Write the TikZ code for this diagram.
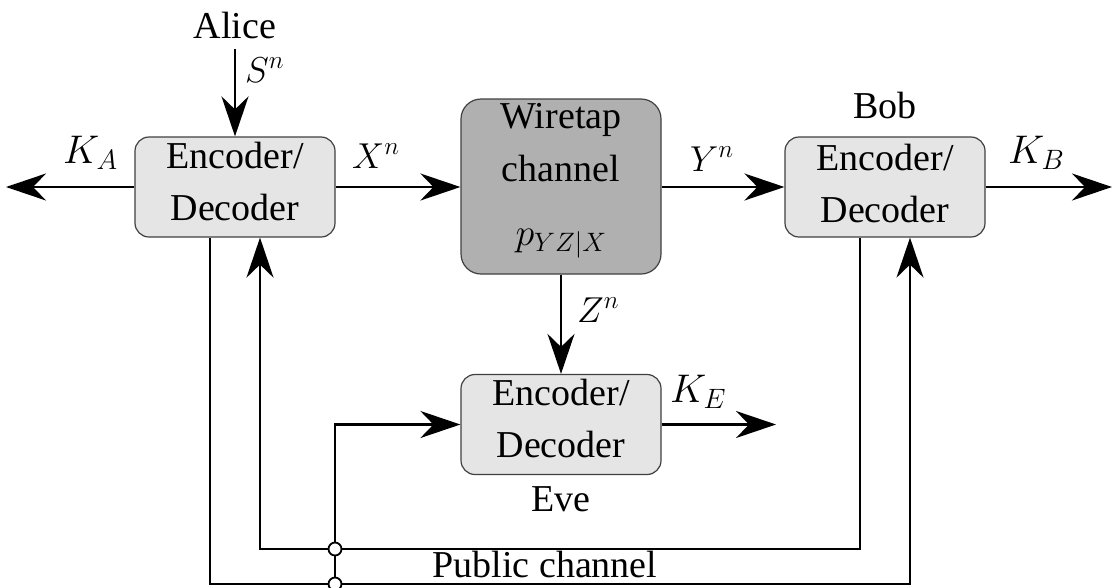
\RequirePackage{fix-cm}
\documentclass[tikz,border=0pt]{standalone}
\usepackage{fontspec}
\setmainfont{Liberation Serif}
\usepackage{graphicx}
\usetikzlibrary{arrows.meta}
\newcommand{\twoline}[2]{\begin{tabular}[t]{@{}c@{}}#1\\#2\end{tabular}}
\begin{document}
\begin{tikzpicture}[x=1pt,y=-1pt,
  txt/.style={inner sep=0pt, font=\fontsize{38}{52}\selectfont},
  mlab/.style={inner sep=0pt, font=\fontsize{36}{44}\selectfont},
  klab/.style={inner sep=0pt, font=\fontsize{40}{46}\selectfont},
  edbox/.style={draw=black!75, line width=1.2pt, fill=black!10, rounded corners=14pt,
    minimum width=200pt, minimum height=100pt, inner sep=0pt,
    text height=31pt, text depth=69pt, font=\fontsize{38}{52}\selectfont},
  chanbox/.style={draw=black!75, line width=1.2pt, fill=black!31, rounded corners=20pt,
    minimum width=200pt, minimum height=175pt, inner sep=0pt,
    text height=29pt, text depth=146pt, font=\fontsize{38}{53}\selectfont},
  conn/.style={line width=2.6pt},
  arr/.style={conn, -{Stealth[length=40pt,width=27pt,inset=13pt]}},
  tap/.style={circle, draw, fill=white, line width=1.8pt, minimum size=13pt, inner sep=0pt}]
\useasboundingbox (0,0) rectangle (1115,587);

% boxes
\node[edbox] (A) at (235,187) {\twoline{Encoder/}{Decoder}};
\node[edbox, text height=33pt, text depth=67pt] (B) at (885,187) {\twoline{Encoder/}{Decoder}};
\node[edbox] (E) at (561,424.5) {\twoline{Encoder/}{Decoder}};
\node[chanbox] (W) at (561,186.5) {\begin{tabular}[t]{@{}c@{}}Wiretap\\channel\\[11pt]$p_{YZ|X}$\end{tabular}};

% party labels
\node[txt, anchor=base] (alice) at (235,38) {Alice};
\node[txt, anchor=base] (bob) at (885,118) {Bob};
\node[txt, anchor=base] (eve) at (561,511) {Eve};
\node[txt, anchor=base] (pub) at (545,577) {Public channel};

% free ends
\coordinate (sIn) at (235,49);
\coordinate (kaEnd) at (6,187);
\coordinate (kbEnd) at (1112,187);
\coordinate (keEnd) at (776,424.5);
\coordinate (lowL) at (210,584);
\coordinate (lowR) at (910,584);
\coordinate (upR) at (860,549);
\coordinate (upL) at (260,549);
\coordinate (tapU) at (335,549);
\coordinate (tapD) at (335,584);

% connectors
\draw[arr] (sIn) -- (A.north);
\draw[arr] (A.west) -- (kaEnd);
\draw[arr] (A.east) -- (A.east -| W.west);
\draw[arr] (W.east |- B.west) -- (B.west);
\draw[arr] (B.east) -- (kbEnd);
\draw[arr] (W.south) -- (E.north);
\draw[arr] (E.east) -- (keEnd);
\draw[arr] ([xshift=-25pt]A.south) -- (lowL) -- (lowR) -- ([xshift=25pt]B.south);
\draw[arr] ([xshift=-25pt]B.south) -- (upR) -- (upL) -- ([xshift=25pt]A.south);
\draw[arr] (tapD) |- (E.west);
\node[tap] (t1) at (tapU) {};
\node[tap] (t2) at (tapD) {};

% signal labels
\node[mlab, anchor=base west] (sn) at (245,82) {$S^n$};
\node[klab, anchor=base west] (ka) at (63,163) {$K_A$};
\node[mlab, anchor=base west] (xn) at (352,168) {$X^n$};
\node[mlab, anchor=base west] (yn) at (690,171) {$Y^n$};
\node[klab, anchor=base west] (kb) at (1008,163) {$K_B$};
\node[mlab, anchor=base west] (zn) at (577,322) {$Z^n$};
\node[klab, anchor=base west] (ke) at (670,402) {$K_E$};
\end{tikzpicture}
\end{document}
